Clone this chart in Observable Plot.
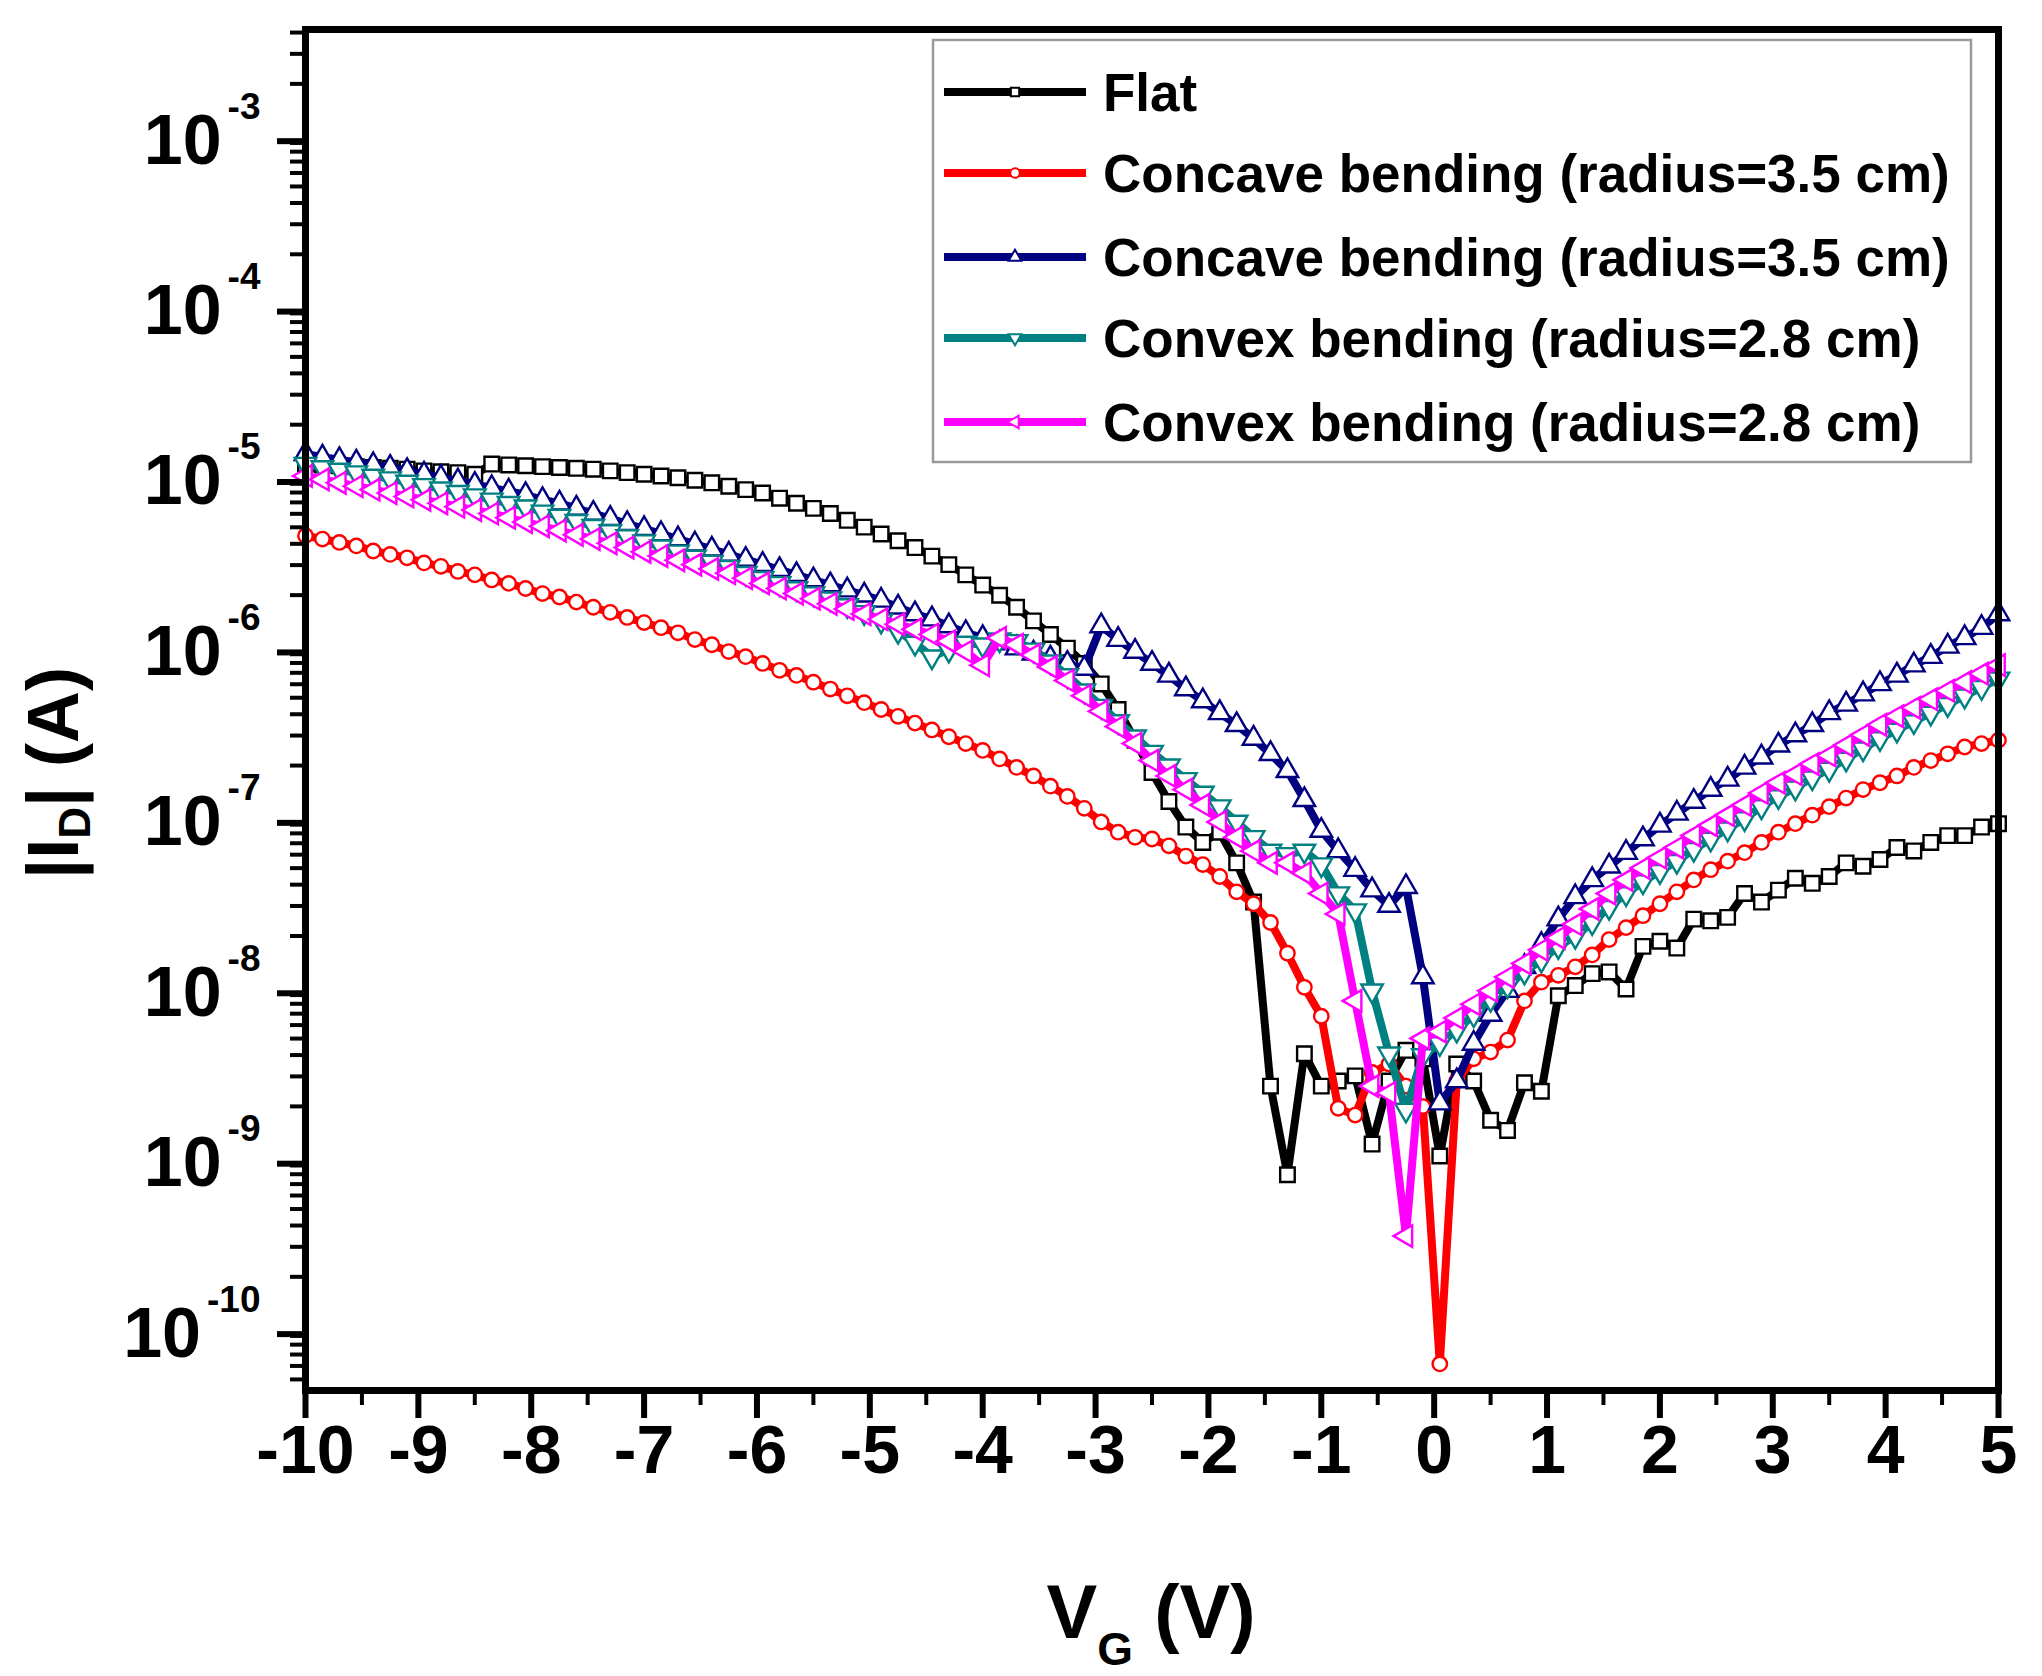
<!DOCTYPE html>
<html><head><meta charset="utf-8">
<script src="https://cdn.jsdelivr.net/npm/d3@7"></script>
<script src="https://cdn.jsdelivr.net/npm/@observablehq/plot@0.6"></script>
<style>
html,body{margin:0;padding:0;background:#fff;}
#chart{width:2042px;height:1676px;}
svg{display:block;}
</style></head><body><div id="chart"></div>
<script>
// Gate voltage VG (V)
const vg = [-10,-9.85,-9.7,-9.55,-9.4,-9.25,-9.1,-8.95,-8.8,-8.65,-8.5,-8.35,-8.2,-8.05,-7.9,-7.75,-7.6,-7.45,-7.3,-7.15,-7,-6.85,-6.7,-6.55,-6.4,-6.25,-6.1,-5.95,-5.8,-5.65,-5.5,-5.35,-5.2,-5.05,-4.9,-4.75,-4.6,-4.45,-4.3,-4.15,-4,-3.85,-3.7,-3.55,-3.4,-3.25,-3.1,-2.95,-2.8,-2.65,-2.5,-2.35,-2.2,-2.05,-1.9,-1.75,-1.6,-1.45,-1.3,-1.15,-1,-0.85,-0.7,-0.55,-0.4,-0.25,-0.1,0.05,0.2,0.35,0.5,0.65,0.8,0.95,1.1,1.25,1.4,1.55,1.7,1.85,2,2.15,2.3,2.45,2.6,2.75,2.9,3.05,3.2,3.35,3.5,3.65,3.8,3.95,4.1,4.25,4.4,4.55,4.7,4.85,5];

// log10 |ID| (A)
const flatLog = [
-4.93,-4.935,-4.94,-4.945,-4.95,-4.955,-4.96,-4.97,-4.975,-4.98,-4.99,
-4.93,-4.935,-4.94,-4.945,-4.95,-4.955,-4.96,-4.97,-4.98,-4.99,
-5.00,-5.01,-5.025,-5.04,-5.06,-5.08,-5.10,-5.13,-5.16,-5.19,
-5.22,-5.26,-5.30,-5.34,-5.38,-5.42,-5.47,-5.52,-5.58,-5.64,
-5.70,-5.77,-5.85,-5.93,-6.01,-6.10,-6.22,-6.37,-6.55,-6.74,
-6.91,-7.06,-7.15,-7.09,-7.27,-7.50,-8.58,-9.10,-8.39,-8.58,
-8.55,-8.52,-8.92,-8.55,-8.37,-8.42,-8.99,-8.45,-8.55,-8.78,
-8.84,-8.56,-8.61,-8.05,-7.99,-7.92,-7.91,-8.01,-7.76,-7.73,
-7.77,-7.60,-7.61,-7.59,-7.45,-7.50,-7.43,-7.36,-7.39,-7.35,
-7.27,-7.29,-7.25,-7.18,-7.20,-7.15,-7.11,-7.11,-7.06,-7.04];

const concaveALog = [
-5.35,-5.37,-5.39,-5.41,-5.44,-5.46,-5.48,-5.51,-5.53,-5.56,-5.58,
-5.61,-5.63,-5.66,-5.69,-5.71,-5.74,-5.77,-5.80,-5.83,-5.86,
-5.89,-5.92,-5.96,-5.99,-6.03,-6.06,-6.10,-6.14,-6.17,-6.21,
-6.25,-6.29,-6.33,-6.37,-6.41,-6.45,-6.49,-6.53,-6.57,-6.61,
-6.66,-6.71,-6.76,-6.82,-6.88,-6.95,-7.03,-7.09,-7.12,-7.13,
-7.17,-7.23,-7.28,-7.35,-7.44,-7.51,-7.62,-7.80,-8.00,-8.17,
-8.71,-8.75,-8.50,-8.45,-8.58,-8.70,-10.21,-8.55,-8.42,-8.38,
-8.31,-8.08,-7.97,-7.93,-7.88,-7.81,-7.72,-7.65,-7.58,-7.51,
-7.44,-7.37,-7.31,-7.26,-7.21,-7.15,-7.09,-7.04,-6.99,-6.94,
-6.89,-6.84,-6.80,-6.76,-6.71,-6.67,-6.63,-6.59,-6.57,-6.55];

const concaveBLog = [
-4.87,-4.89,-4.905,-4.92,-4.935,-4.95,-4.97,-4.99,-5.01,-5.03,-5.05,
-5.07,-5.09,-5.11,-5.14,-5.16,-5.19,-5.22,-5.25,-5.28,-5.31,
-5.34,-5.37,-5.40,-5.43,-5.46,-5.49,-5.52,-5.55,-5.58,-5.61,
-5.64,-5.67,-5.70,-5.73,-5.77,-5.81,-5.84,-5.88,-5.92,-5.95,
-5.98,-6.01,-6.04,-6.07,-6.10,-6.13,-5.88,-5.96,-6.03,-6.10,
-6.17,-6.25,-6.32,-6.39,-6.46,-6.54,-6.63,-6.73,-6.90,-7.08,
-7.20,-7.31,-7.43,-7.52,-7.41,-7.94,-8.68,-8.55,-8.33,-8.16,
-8.02,-7.88,-7.75,-7.60,-7.47,-7.37,-7.29,-7.21,-7.13,-7.05,
-6.98,-6.91,-6.84,-6.78,-6.71,-6.65,-6.58,-6.52,-6.46,-6.39,
-6.34,-6.28,-6.22,-6.17,-6.11,-6.06,-6.00,-5.95,-5.89,-5.81];

const convexALog = [
-4.93,-4.95,-4.965,-4.98,-5.00,-5.015,-5.035,-5.055,-5.075,-5.095,-5.115,
-5.14,-5.16,-5.18,-5.21,-5.235,-5.265,-5.295,-5.325,-5.355,-5.385,
-5.415,-5.445,-5.475,-5.505,-5.535,-5.57,-5.60,-5.63,-5.66,-5.69,
-5.72,-5.76,-5.80,-5.85,-5.91,-5.98,-6.06,-6.02,-5.98,-5.99,
-5.96,-5.97,-6.02,-6.09,-6.17,-6.26,-6.35,-6.44,-6.53,-6.62,
-6.70,-6.78,-6.86,-6.94,-7.03,-7.12,-7.20,-7.22,-7.20,-7.28,
-7.45,-7.55,-8.02,-8.39,-8.72,-8.40,-8.33,-8.25,-8.16,-8.07,
-7.99,-7.91,-7.84,-7.76,-7.70,-7.62,-7.53,-7.45,-7.38,-7.32,
-7.26,-7.19,-7.13,-7.07,-7.01,-6.94,-6.88,-6.83,-6.77,-6.72,
-6.66,-6.60,-6.54,-6.49,-6.44,-6.39,-6.34,-6.29,-6.24,-6.19];

const convexBLog = [
-5.00,-5.02,-5.04,-5.06,-5.08,-5.10,-5.12,-5.14,-5.16,-5.18,-5.20,
-5.22,-5.245,-5.27,-5.295,-5.32,-5.345,-5.37,-5.395,-5.42,-5.445,
-5.47,-5.495,-5.52,-5.545,-5.57,-5.60,-5.63,-5.66,-5.69,-5.72,
-5.75,-5.78,-5.81,-5.84,-5.87,-5.90,-5.93,-5.97,-6.03,-6.11,
-5.95,-5.99,-6.05,-6.12,-6.20,-6.29,-6.38,-6.47,-6.57,-6.67,
-6.76,-6.84,-6.93,-7.03,-7.12,-7.20,-7.27,-7.27,-7.33,-7.45,
-7.57,-8.08,-8.58,-8.62,-9.46,-8.30,-8.26,-8.18,-8.10,-8.02,
-7.94,-7.86,-7.78,-7.71,-7.63,-7.54,-7.45,-7.37,-7.30,-7.24,
-7.18,-7.11,-7.05,-6.99,-6.93,-6.86,-6.80,-6.75,-6.69,-6.64,
-6.58,-6.52,-6.46,-6.41,-6.36,-6.31,-6.26,-6.21,-6.16,-6.11];

const seriesNames = ["Flat","Concave bending (radius=3.5 cm)","Concave bending (radius=3.5 cm)","Convex bending (radius=2.8 cm)","Convex bending (radius=2.8 cm)"];
const seriesColors = ["#000000","#ff0000","#000080","#008080","#ff00ff"];
const seriesSymbols = ["square","circle","triangle","triangle","triangle"];
const seriesRotate = [0,0,0,180,-90];
const seriesR = [8.2,7.2,8,8,8];
const seriesLogs = [flatLog, concaveALog, concaveBLog, convexALog, convexBLog];

const yMajorTicks = [1e-10,1e-9,1e-8,1e-7,1e-6,1e-5,1e-4,1e-3];
const xMajorTicks = [-10,-9,-8,-7,-6,-5,-4,-3,-2,-1,0,1,2,3,4,5];
const xMinorTicks = [-9.5,-8.5,-7.5,-6.5,-5.5,-4.5,-3.5,-2.5,-1.5,-0.5,0.5,1.5,2.5,3.5,4.5];
const yDomain = [Math.pow(10,-10.366), Math.pow(10,-2.38)];

const yMinorTicks = [];
for (let e = -11; e <= -3; e++) for (let k = 2; k <= 9; k++) {
  const v = k * Math.pow(10, e);
  if (v > yDomain[0] && v < yDomain[1]) yMinorTicks.push(v);
}

const FONT = "'Liberation Sans', Arial, Helvetica, sans-serif";

const marks = [];
seriesLogs.forEach((arr, s) => {
  const data = vg.map((v, i) => ({v, id: Math.pow(10, arr[i])}));
  marks.push(Plot.line(data, {x: "v", y: "id", stroke: seriesColors[s], strokeWidth: 8}));
  marks.push(Plot.dot(data, {x: "v", y: "id", symbol: seriesSymbols[s], r: seriesR[s], stroke: seriesColors[s], fill: "white", strokeWidth: 2.4, rotate: seriesRotate[s]}));
});

marks.push(
  Plot.axisY(yMinorTicks, {tickSize: 15, strokeWidth: 4, tickFormat: () => "", label: null}),
  Plot.axisY(yMajorTicks, {tickSize: 28, strokeWidth: 6, tickPadding: 17, fontSize: 70, fontWeight: "bold", fill: "black", dy: 6,
    tickFormat: d => "10^" + Math.round(Math.log10(d)), label: null}),
  Plot.axisX(xMinorTicks, {tickSize: 15, strokeWidth: 4, tickFormat: () => "", label: null}),
  Plot.axisX(xMajorTicks, {tickSize: 28, strokeWidth: 6, tickPadding: 6, fontSize: 68, fontWeight: "bold", fill: "black",
    tickFormat: d => String(d), label: null}),
  Plot.frame({stroke: "black", strokeWidth: 7})
);

const svg = Plot.plot({
  width: 2042,
  height: 1676,
  marginLeft: 305,
  marginRight: 44,
  marginTop: 29,
  marginBottom: 286,
  style: {fontFamily: FONT, fontWeight: "bold", color: "black", background: "white"},
  x: {domain: [-10, 5]},
  y: {type: "log", domain: yDomain},
  marks
});

const sel = d3.select(svg);
// superscript exponents on y tick labels
sel.selectAll("text").each(function() {
  const m = /^10\^(-?\d+)$/.exec(this.textContent);
  if (m) {
    const el = d3.select(this);
    el.text(null);
    el.append("tspan").text("10");
    el.append("tspan").attr("dx", 6).attr("dy", -45).attr("font-size", 37).text(m[1]);
  }
});

// axis titles
const xt = sel.append("text").attr("x", 1151).attr("y", 1638).attr("text-anchor", "middle")
  .attr("font-size", 76).attr("font-weight", "bold").attr("font-family", FONT).attr("fill", "black")
  .style("white-space", "pre");
xt.append("tspan").text("V");
xt.append("tspan").attr("font-size", 46).attr("dy", 27).text("G");
xt.append("tspan").attr("dy", -27).text(" (V)");

const yt = sel.append("text").attr("transform", "translate(78,773) rotate(-90)").attr("text-anchor", "middle")
  .attr("font-size", 72).attr("font-weight", "bold").attr("font-family", FONT).attr("fill", "black")
  .style("white-space", "pre");
yt.append("tspan").text("|I");
yt.append("tspan").attr("font-size", 44).attr("dy", 12).text("D");
yt.append("tspan").attr("dy", -12).text("| (A)");

// legend
const lg = sel.append("g").attr("text-anchor", "start");
lg.append("rect").attr("x", 933).attr("y", 40).attr("width", 1038).attr("height", 422)
  .attr("fill", "white").attr("stroke", "#9a9a9a").attr("stroke-width", 2.5);
const legendY = [92, 173, 257, 338, 422];
const symMap = {square: d3.symbolSquare, circle: d3.symbolCircle, triangle: d3.symbolTriangle};
seriesNames.forEach((name, s) => {
  const y = legendY[s];
  lg.append("line").attr("x1", 944).attr("x2", 1086).attr("y1", y).attr("y2", y)
    .attr("stroke", seriesColors[s]).attr("stroke-width", 8);
  lg.append("path").attr("d", d3.symbol(symMap[seriesSymbols[s]], 70)())
    .attr("transform", `translate(1015,${y}) rotate(${seriesRotate[s]})`)
    .attr("fill", "white").attr("stroke", seriesColors[s]).attr("stroke-width", 2);
  lg.append("text").attr("x", 1103).attr("y", y + 19).attr("font-size", 53).attr("text-anchor", "start")
    .attr("font-weight", "bold").attr("font-family", FONT).attr("fill", "black").text(name);
});

document.getElementById("chart").appendChild(svg);
</script>
</body></html>
